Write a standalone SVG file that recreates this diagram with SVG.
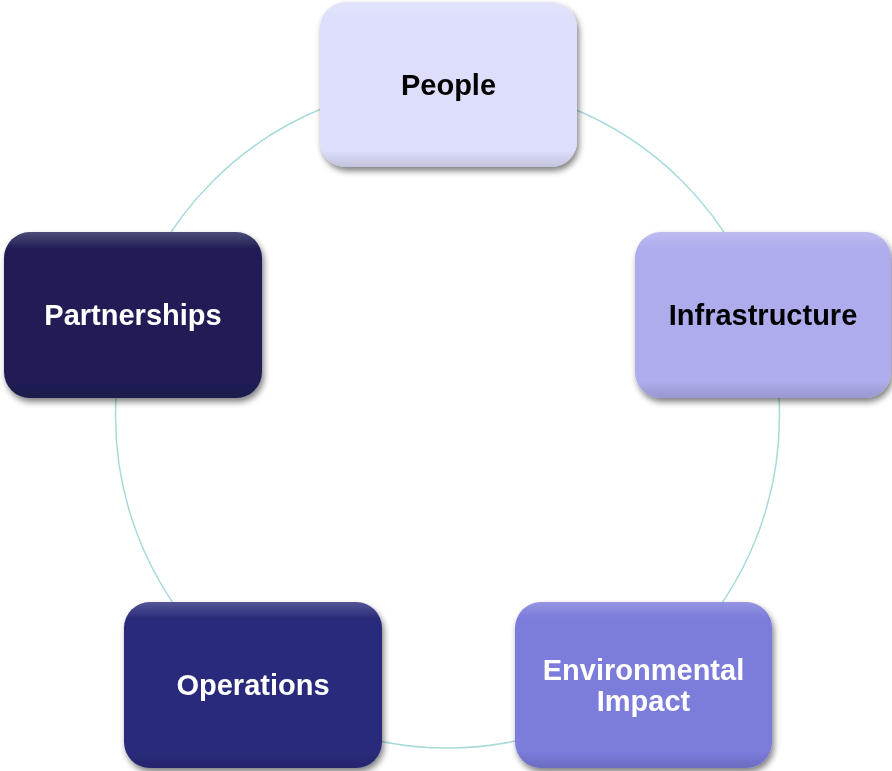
<svg xmlns="http://www.w3.org/2000/svg" width="892" height="771" viewBox="0 0 892 771">
<defs>
<filter id="sh" x="-10%" y="-10%" width="125%" height="130%">
<feGaussianBlur in="SourceAlpha" stdDeviation="3"/>
<feOffset dx="2" dy="4" result="b"/>
<feComponentTransfer><feFuncA type="linear" slope="0.5"/></feComponentTransfer>
<feMerge><feMergeNode/><feMergeNode in="SourceGraphic"/></feMerge>
</filter>
<linearGradient id="hl" x1="0" y1="0" x2="0" y2="1">
<stop offset="0" stop-color="#fff" stop-opacity="0.2"/>
<stop offset="0.1" stop-color="#fff" stop-opacity="0"/>
<stop offset="0.9" stop-color="#000" stop-opacity="0"/>
<stop offset="1" stop-color="#000" stop-opacity="0.12"/>
</linearGradient>
</defs>
<style>
.lbl{font-family:"Liberation Sans",Arial,sans-serif;font-weight:bold;font-size:29px;text-anchor:middle}
.dk{fill:#000}.lt{fill:#fff}
.ring{fill:none;stroke:#a9dada;stroke-width:1.5}
</style>
<rect width="892" height="771" fill="#fff"/>
<g id="connectors">
<circle class="ring" cx="447.5" cy="416" r="332"/>
</g>
<g id="people" filter="url(#sh)">
<rect x="320" y="2" width="257" height="165" rx="26" fill="#dddefb"/>
<rect x="320" y="2" width="257" height="165" rx="26" fill="url(#hl)"/>
<text class="lbl dk" x="448.5" y="94.5">People</text>
</g>
<g id="infrastructure" filter="url(#sh)">
<rect x="635" y="232" width="256" height="166" rx="26" fill="#aeacec"/>
<rect x="635" y="232" width="256" height="166" rx="26" fill="url(#hl)"/>
<text class="lbl dk" x="763" y="325">Infrastructure</text>
</g>
<g id="environmental-impact" filter="url(#sh)">
<rect x="515" y="602" width="257" height="166" rx="26" fill="#7b7bdb"/>
<rect x="515" y="602" width="257" height="166" rx="26" fill="url(#hl)"/>
<text class="lbl lt" x="643.5" y="680">Environmental</text>
<text class="lbl lt" x="643.5" y="711">Impact</text>
</g>
<g id="operations" filter="url(#sh)">
<rect x="124" y="602" width="258" height="166" rx="26" fill="#2a2b7b"/>
<rect x="124" y="602" width="258" height="166" rx="26" fill="url(#hl)"/>
<text class="lbl lt" x="253" y="695">Operations</text>
</g>
<g id="partnerships" filter="url(#sh)">
<rect x="4" y="232" width="258" height="166" rx="26" fill="#201f56"/>
<rect x="4" y="232" width="258" height="166" rx="26" fill="url(#hl)"/>
<text class="lbl lt" x="133" y="325">Partnerships</text>
</g>
</svg>
